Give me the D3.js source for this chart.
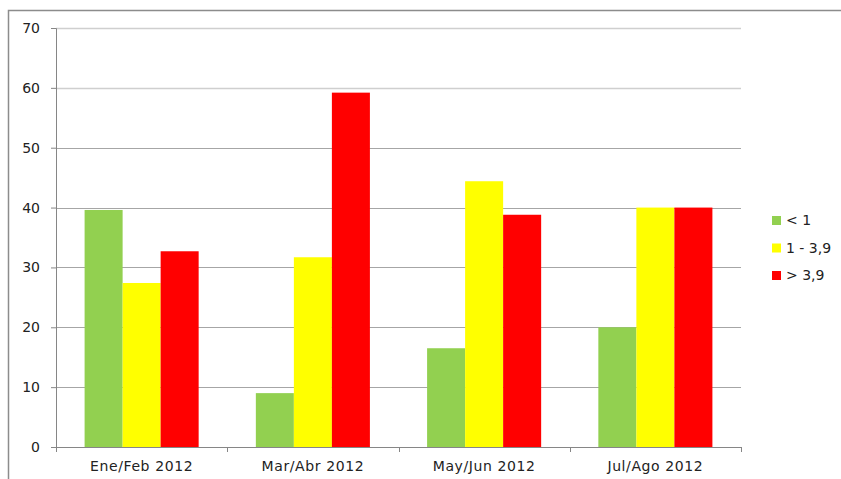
<!DOCTYPE html>
<html>
<head>
<meta charset="utf-8">
<script src="https://cdn.jsdelivr.net/npm/d3@7"></script>
<style>
  body { margin: 0; background: #fff; }
  svg { display: block; font-family: "DejaVu Sans", sans-serif; }
</style>
</head>
<body>
<div id="chart"></div>
<script>
const categories = ['Ene/Feb 2012', 'Mar/Abr 2012', 'May/Jun 2012', 'Jul/Ago 2012'];
const seriesNames = ['< 1', '1 - 3,9', '> 3,9'];
const seriesColors = ['#92d050', '#ffff00', '#ff0000'];
const lowValues = [39.6, 9.0, 16.5, 20.0];
const midValues = [27.4, 31.7, 44.4, 40.0];
const highValues = [32.7, 59.2, 38.8, 40.0];
const yTicks = [0, 10, 20, 30, 40, 50, 60, 70];

const seriesValues = [lowValues, midValues, highValues];

const width = 841;
const height = 479;
const margin = { top: 28, right: 100, bottom: 32, left: 56 };
const innerWidth = 741 - margin.left;
const innerHeight = 447 - margin.top;
const font = '"DejaVu Sans", sans-serif';

const svg = d3.select('#chart').append('svg')
  .attr('width', width)
  .attr('height', height);

// outer frame (runs off the right and bottom edges)
svg.append('path')
  .attr('d', `M8.5,${height} V10.5 H${width}`)
  .attr('fill', 'none')
  .attr('stroke', '#8c8c8c')
  .attr('stroke-width', 1.5);

const chart = svg.append('g')
  .attr('transform', `translate(${margin.left},${margin.top})`);

const x0 = d3.scaleBand()
  .domain(categories)
  .range([0, innerWidth])
  .paddingInner(0.334)
  .paddingOuter(0.167);

const x1 = d3.scaleBand()
  .domain(seriesNames)
  .range([0, x0.bandwidth()]);

const y = d3.scaleLinear()
  .domain([0, 70])
  .range([innerHeight, 0]);

// gridlines
chart.append('g')
  .selectAll('line')
  .data(yTicks.filter(d => d > 0))
  .join('line')
  .attr('x1', 0)
  .attr('x2', innerWidth)
  .attr('y1', d => Math.round(y(d)) + 0.5)
  .attr('y2', d => Math.round(y(d)) + 0.5)
  .attr('stroke', d => d >= 60 ? '#cfcfcf' : '#a6a6a6')
  .attr('stroke-width', d => d >= 60 ? 1.5 : 1);

// bars
chart.append('g')
  .selectAll('g')
  .data(categories)
  .join('g')
  .attr('transform', d => `translate(${x0(d)},0)`)
  .selectAll('rect')
  .data((c, ci) => seriesNames.map((s, si) => ({ s, v: seriesValues[si][ci], color: seriesColors[si] })))
  .join('rect')
  .attr('x', d => x1(d.s))
  .attr('width', x1.bandwidth())
  .attr('y', d => y(d.v))
  .attr('height', d => innerHeight - y(d.v))
  .attr('fill', d => d.color);

// y axis
const yAxis = chart.append('g')
  .call(d3.axisLeft(y).tickValues(yTicks).tickSize(5).tickPadding(11).tickFormat(d3.format('d')));
yAxis.select('.domain').attr('stroke', '#868686');
yAxis.selectAll('.tick line').attr('stroke', '#868686');
yAxis.selectAll('.tick text')
  .attr('font-size', 14)
  .attr('fill', '#222')
  .attr('font-family', font);

// x axis
const xAxis = chart.append('g')
  .attr('transform', `translate(0,${innerHeight})`)
  .call(d3.axisBottom(x0).tickSize(0).tickPadding(14).tickSizeOuter(0));
xAxis.select('.domain').attr('stroke', '#868686');
xAxis.selectAll('.tick text')
  .attr('font-size', 14)
  .attr('letter-spacing', 0.6)
  .attr('fill', '#222')
  .attr('font-family', font);

// category separator ticks
const step = x0.step();
chart.append('g')
  .selectAll('line')
  .data(d3.range(categories.length + 1))
  .join('line')
  .attr('x1', i => Math.round(i * step) + 0.5)
  .attr('x2', i => Math.round(i * step) + 0.5)
  .attr('y1', innerHeight)
  .attr('y2', innerHeight + 5)
  .attr('stroke', '#868686');

// legend
const legend = svg.append('g')
  .attr('transform', 'translate(772,216)');
seriesNames.forEach((name, i) => {
  const item = legend.append('g')
    .attr('transform', `translate(0, ${i * 27.5})`);
  item.append('rect')
    .attr('width', 9)
    .attr('height', 9)
    .attr('fill', seriesColors[i]);
  item.append('text')
    .attr('x', 14)
    .attr('y', 4.5)
    .attr('dy', '0.35em')
    .attr('font-size', 14)
    .attr('fill', '#222')
    .text(name);
});
</script>
</body>
</html>
